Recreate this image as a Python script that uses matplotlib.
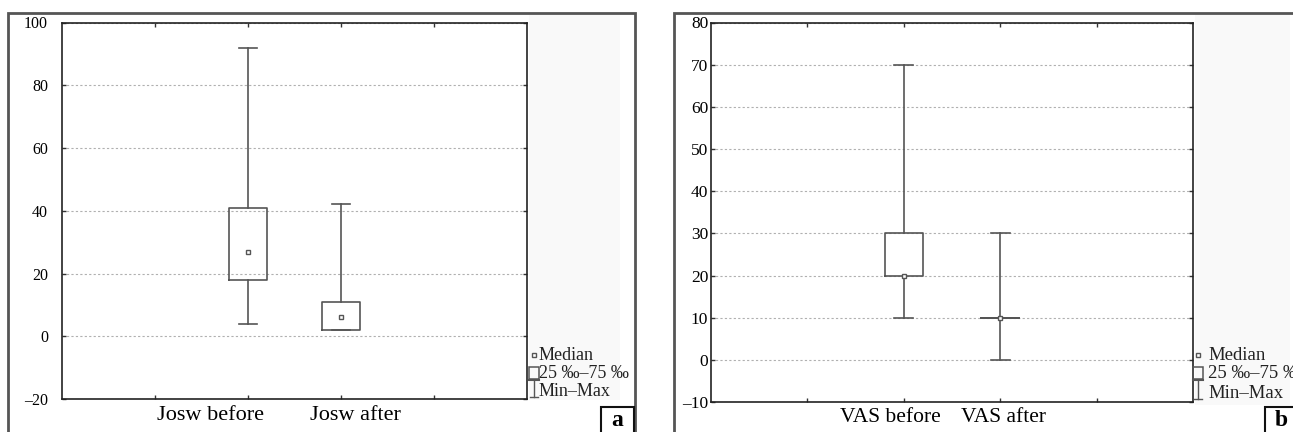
import matplotlib
matplotlib.use("Agg")
import matplotlib.pyplot as plt
from matplotlib.patches import Rectangle
from matplotlib.lines import Line2D

plt.rcParams['font.family'] = ['Liberation Serif', 'DejaVu Serif']

# -----------------------------
# DATA
# -----------------------------
josw_labels = ["Josw before", "Josw after"]
josw_min = [4, 2]
josw_q1 = [18, 2]
josw_med = [27, 6]
josw_q3 = [41, 11]
josw_max = [92, 42]

vas_labels = ["VAS before", "VAS after"]
vas_min = [10, 0]
vas_q1 = [20, 10]
vas_med = [20, 10]
vas_q3 = [30, 10]
vas_max = [70, 30]

legend_texts = ["Median", "25 \u2030\u201375 \u2030", "Min\u2013Max"]

W, H = 1293, 432
fig = plt.figure(figsize=(W / 100, H / 100), dpi=100)
fig.patch.set_facecolor("white")


def fx(x):
    return x / W


def fy(y):
    return 1 - y / H


def box_px(x0, y0, x1, y1, **kw):
    # rectangle given in pixel coords (top-left origin)
    r = Rectangle((fx(x0), fy(y1)), fx(x1) - fx(x0), fy(y0) - fy(y1),
                  transform=fig.transFigure, **kw)
    fig.add_artist(r)
    return r


# outer frames and faint background strips
box_px(8, 13, 635, 440, fill=False, edgecolor="#555555", lw=2)
box_px(674, 13, 1300, 440, fill=False, edgecolor="#555555", lw=2)
box_px(529, 15, 620, 400, facecolor="#f9f9f9", edgecolor="none", lw=0)
box_px(1195, 15, 1290, 405, facecolor="#f9f9f9", edgecolor="none", lw=0)


def panel(rect, labels, mins, q1s, meds, q3s, maxs, ylim, yticks, tick_fs,
          pad, label_x, label_y, label_fs, color):
    ax = fig.add_axes(rect)
    stats = []
    for lab, lo, a, m, b, hi in zip(labels, mins, q1s, meds, q3s, maxs):
        stats.append(dict(label=lab, whislo=lo, q1=a, med=m, q3=b, whishi=hi))
    pos = [2, 3]
    ax.bxp(stats, positions=pos, widths=0.4, capwidths=0.2, showfliers=False,
           boxprops=dict(color=color, lw=1.2),
           whiskerprops=dict(color=color, lw=1.2),
           capprops=dict(color=color, lw=1.2),
           medianprops=dict(lw=0))
    ax.plot(pos, meds, "s", ms=3.5, mfc="white", mec=color, mew=1.0,
            zorder=5)
    ax.set_xlim(0, 5)
    ax.set_ylim(*ylim)
    ax.set_xticks([1, 2, 3, 4])
    ax.set_xticklabels([])
    ax.set_yticks(yticks)
    ax.tick_params(direction="in", length=3, width=1, top=True, right=True,
                   labelsize=tick_fs, pad=pad, color="#333333")
    ax.grid(axis="y", color="#b0b0b0", lw=0.8, linestyle=(0, (2, 2)))
    ax.set_axisbelow(True)
    for s in ax.spines.values():
        s.set_color("#222222")
        s.set_linewidth(1.2)
    yticklabels = [str(t).replace("-", "\u2013") for t in yticks]
    ax.set_yticklabels(yticklabels)
    for lx, lab in zip(label_x, labels):
        ax.text(lx, label_y, lab, transform=ax.get_xaxis_transform(),
                ha="center", va="baseline", fontsize=label_fs)
    return ax


panel([fx(62), fy(399), fx(527) - fx(62), fy(22.5) - fy(399)],
      josw_labels, josw_min, josw_q1, josw_med, josw_q3, josw_max,
      (-20, 100), [-20, 0, 20, 40, 60, 80, 100], 11.5, 10,
      [1.6, 3.15], -0.056, 16, "#555555")

panel([fx(711), fy(402), fx(1193) - fx(711), fy(22.5) - fy(402)],
      vas_labels, vas_min, vas_q1, vas_med, vas_q3, vas_max,
      (-10, 80), [-10, 0, 10, 20, 30, 40, 50, 60, 70, 80], 12.5, 2,
      [1.86, 3.03], -0.052, 15.5, "#555555")


def legend(x_icon, x_text, ys, fs):
    c = "#555555"
    # median marker
    fig.add_artist(Line2D([fx(x_icon)], [fy(ys[0])], marker="s", ms=3.5,
                          mfc="white", mec=c, mew=1.0,
                          transform=fig.transFigure))
    # quartile box
    box_px(x_icon - 5, ys[1] - 6, x_icon + 5, ys[1] + 6, fill=False,
           edgecolor=c, lw=1.1)
    # min-max whisker
    fig.add_artist(Line2D([fx(x_icon - 5), fx(x_icon + 5)],
                          [fy(ys[1] + 7), fy(ys[1] + 7)], color=c, lw=1.5,
                          transform=fig.transFigure))
    fig.add_artist(Line2D([fx(x_icon), fx(x_icon)],
                          [fy(ys[1] + 7), fy(ys[2] + 6)], color=c, lw=1.0,
                          transform=fig.transFigure))
    fig.add_artist(Line2D([fx(x_icon - 4), fx(x_icon + 4)],
                          [fy(ys[2] + 6), fy(ys[2] + 6)], color=c, lw=1.0,
                          transform=fig.transFigure))
    for y, t in zip(ys, legend_texts):
        fig.text(fx(x_text), fy(y), t, ha="left", va="center",
                 fontsize=fs, color="#222222")


legend(534, 539, [355, 373, 391], 13)
legend(1198, 1208, [355, 373, 393], 13.5)

# panel letters
box_px(601, 407, 634, 440, facecolor="white", edgecolor="#111111", lw=1.5)
fig.text(fx(617.5), fy(421), "a", ha="center", va="center", fontsize=17,
         fontweight="bold")
box_px(1265, 407, 1300, 440, facecolor="white", edgecolor="#111111", lw=1.5)
fig.text(fx(1281), fy(421), "b", ha="center", va="center", fontsize=17,
         fontweight="bold")

fig.savefig("out.png", dpi=100)
